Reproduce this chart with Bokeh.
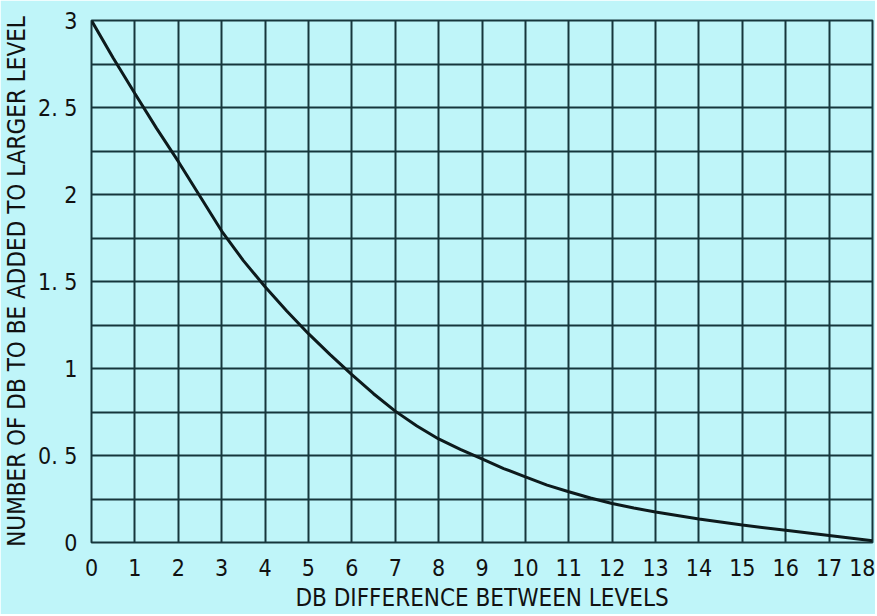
from bokeh.plotting import figure
from bokeh.embed import file_html
from bokeh.resources import INLINE
from bokeh.models import FixedTicker, Range1d

# Data (curve read at half-dB steps where it bends most)
db_difference = [0, 0.5, 1, 1.5, 2, 2.5, 3, 3.5, 4, 4.5, 5, 5.5, 6, 6.5, 7, 7.5, 8, 8.5,
                 9, 9.5, 10, 10.5, 11, 11.5, 12, 12.5, 13, 14, 15, 16, 17, 18]
db_to_add = [3.0, 2.785, 2.58, 2.38, 2.19, 1.99, 1.79, 1.62, 1.47, 1.33, 1.2, 1.08, 0.965,
             0.855, 0.755, 0.67, 0.595, 0.535, 0.48, 0.425, 0.377, 0.33, 0.292, 0.256, 0.224,
             0.198, 0.175, 0.135, 0.10, 0.07, 0.04, 0.01]
x_ticks = list(range(0, 19))
y_ticks = [0, 0.5, 1, 1.5, 2, 2.5, 3]
y_minor = [0.25, 0.75, 1.25, 1.75, 2.25, 2.75]
y_tick_labels = {0: "0", 0.5: "0. 5", 1: "1", 1.5: "1. 5", 2: "2", 2.5: "2. 5", 3: "3"}

FONT = "'DejaVu Sans Condensed', 'Liberation Sans Narrow', sans-serif"
BG = "#bff5f9"
GRID = "#16363c"

p = figure(width=875, height=614, output_backend="svg", toolbar_location=None,
           x_range=Range1d(0, 18), y_range=Range1d(0, 3),
           min_border_left=90, min_border_right=3, min_border_top=20, min_border_bottom=68)

p.background_fill_color = BG
p.border_fill_color = BG
p.outline_line_color = GRID
p.outline_line_width = 2

p.xaxis.ticker = FixedTicker(ticks=x_ticks)
p.yaxis.ticker = FixedTicker(ticks=y_ticks, minor_ticks=y_minor)
p.yaxis.major_label_overrides = y_tick_labels

for ax in (p.xaxis[0], p.yaxis[0]):
    ax.axis_line_color = None
    ax.major_tick_line_color = None
    ax.minor_tick_line_color = None
    ax.major_label_text_font = FONT
    ax.major_label_text_font_size = "23px"
    ax.major_label_text_color = "#111111"
    ax.axis_label_text_font = FONT
    ax.axis_label_text_font_style = "normal"
    ax.axis_label_text_color = "#111111"

p.xaxis.axis_label = "DB DIFFERENCE BETWEEN LEVELS"
p.xaxis.axis_label_text_font_size = "24px"
p.xaxis.major_label_standoff = 10
p.xaxis.axis_label_standoff = 5
p.yaxis.axis_label = "NUMBER OF DB TO BE ADDED TO LARGER LEVEL"
p.yaxis.axis_label_text_font_size = "24px"
p.yaxis.major_label_standoff = 8
p.yaxis.axis_label_standoff = 4

p.xgrid.grid_line_color = GRID
p.xgrid.grid_line_width = 2
p.ygrid.grid_line_color = GRID
p.ygrid.grid_line_width = 2
p.ygrid.minor_grid_line_color = GRID
p.ygrid.minor_grid_line_width = 2

p.line(db_difference, db_to_add, line_color="#0d1a1c", line_width=3)

open("out.html", "w").write(file_html(p, INLINE))
